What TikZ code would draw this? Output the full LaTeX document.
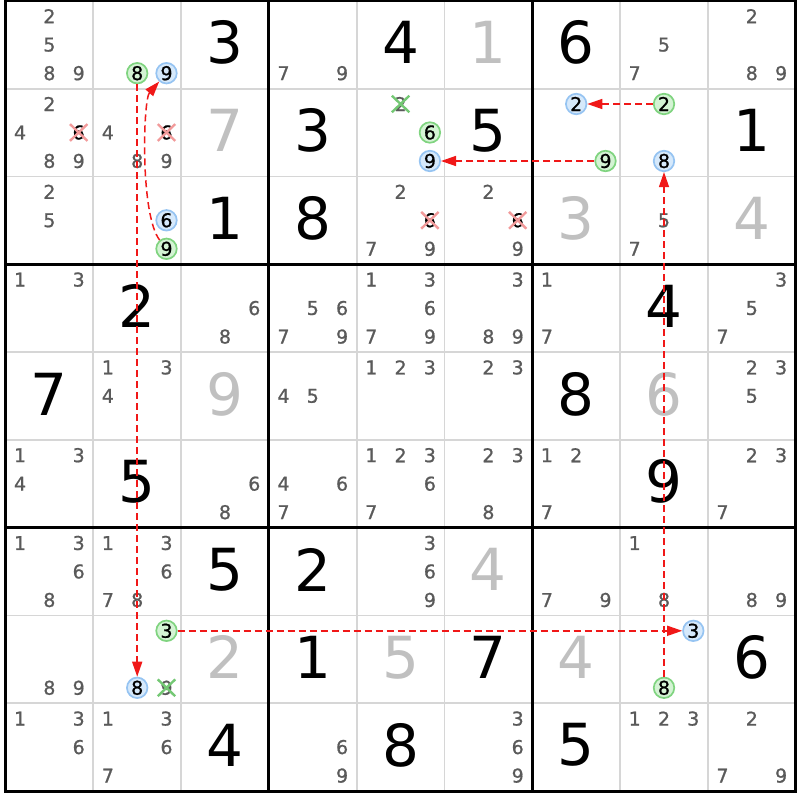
\documentclass[tikz,border=0pt]{standalone}
\usepackage{fontspec}
\setmainfont{DejaVu Sans}
\newfontfamily\candfont{DejaVu Sans}[FakeBold=0.9]
\usetikzlibrary{arrows.meta,shapes.misc}
\definecolor{candgray}{HTML}{5A5A5A}
\definecolor{solvedgray}{HTML}{C0C0C0}
\definecolor{gridgray}{HTML}{D6D6D6}
\definecolor{greenfill}{HTML}{D4F3D4}
\definecolor{greenline}{HTML}{80D480}
\definecolor{bluefill}{HTML}{D6E9FB}
\definecolor{blueline}{HTML}{96C4F2}
\definecolor{xred}{HTML}{F29A9A}
\definecolor{xgreen}{HTML}{74C874}
\definecolor{linkred}{HTML}{F01818}
\newcommand\sqxy[2]{\pgfmathsetmacro\sqx{5.5+(#2-0.5)*87.8}\pgfmathsetmacro\sqy{0.8+(#1-0.5)*87.8}}
\newcommand\kxy[3]{\sqxy{#1}{#2}\pgfmathsetmacro\kx{\sqx+(mod(#3-1,3)-1)*29.3}\pgfmathsetmacro\ky{\sqy+(floor((#3-1)/3)-1)*28.5}}
\newcommand\cands[3]{\foreach \dd in {#3}{\kxy{#1}{#2}{\dd}\node[cand] (k#1#2\dd) at (\kx,\ky) {\dd};}}
\newcommand\spec[4]{\kxy{#1}{#2}{#3}\node[#4] (k#1#2#3) at (\kx,\ky) {#3};}
\newcommand\given[3]{\sqxy{#1}{#2}\node[given] (g#1#2) at (\sqx,\sqy-2) {#3};}
\newcommand\solved[3]{\sqxy{#1}{#2}\node[solved] (g#1#2) at (\sqx,\sqy-2) {#3};}
\begin{document}
\begin{tikzpicture}[x=1pt,y=-1pt,
  cand/.style={text=candgray,inner sep=0pt,font=\candfont\fontsize{19}{19}\selectfont},
  given/.style={text=black,inner sep=0pt,font=\fontsize{58}{58}\selectfont},
  solved/.style={given,text=solvedgray},
  greenc/.style={cand,text=black,circle,draw=greenline,fill=greenfill,line width=1.7pt,minimum size=20.5pt},
  bluec/.style={cand,text=black,circle,draw=blueline,fill=bluefill,line width=1.7pt,minimum size=20.5pt},
  redx/.style={cand,text=black,cross out,draw=xred,line width=2.4pt,minimum width=15pt,minimum height=13pt},
  greenx/.style={cand,cross out,draw=xgreen,line width=2.4pt,minimum width=15pt,minimum height=13pt},
  thingrid/.style={draw=gridgray,line width=1.8pt},
  thickgrid/.style={draw=black,line width=3pt},
  link/.style={draw=linkred,line width=1.5pt,dash pattern=on 7pt off 4pt,-{Triangle[length=15pt,width=10pt]}}]
\useasboundingbox (0,0) rectangle (800,800);
\fill[white] (0,0) rectangle (800,800);
% grid
\foreach \i in {1,2,4,5,7,8}{
  \draw[thingrid] (5.5+\i*87.8,0.8) -- (5.5+\i*87.8,790.8);
  \draw[thingrid] (5.5,0.8+\i*87.8) -- (795.5,0.8+\i*87.8);
}
\foreach \i in {0,3,6,9}{
  \draw[thickgrid] (5.5+\i*87.8,-0.7) -- (5.5+\i*87.8,792.3);
  \draw[thickgrid] (4,0.8+\i*87.8) -- (797,0.8+\i*87.8);
}
% givens
\given{1}{3}{3}\given{1}{5}{4}\given{1}{7}{6}
\given{2}{4}{3}\given{2}{6}{5}\given{2}{9}{1}
\given{3}{3}{1}\given{3}{4}{8}
\given{4}{2}{2}\given{4}{8}{4}
\given{5}{1}{7}\given{5}{7}{8}
\given{6}{2}{5}\given{6}{8}{9}
\given{7}{3}{5}\given{7}{4}{2}
\given{8}{4}{1}\given{8}{6}{7}\given{8}{9}{6}
\given{9}{3}{4}\given{9}{5}{8}\given{9}{7}{5}
% solved
\solved{1}{6}{1}\solved{2}{3}{7}\solved{3}{7}{3}\solved{3}{9}{4}
\solved{5}{3}{9}\solved{5}{8}{6}\solved{7}{6}{4}
\solved{8}{3}{2}\solved{8}{5}{5}\solved{8}{7}{4}
% candidates
\cands{1}{1}{2,5,8,9}\cands{1}{4}{7,9}\cands{1}{8}{5,7}\cands{1}{9}{2,8,9}
\cands{2}{1}{2,4,8,9}\cands{2}{2}{4,8,9}
\cands{3}{1}{2,5}\cands{3}{5}{2,7,9}\cands{3}{6}{2,9}\cands{3}{8}{5,7}
\cands{4}{1}{1,3}\cands{4}{3}{6,8}\cands{4}{4}{5,6,7,9}\cands{4}{5}{1,3,6,7,9}
\cands{4}{6}{3,8,9}\cands{4}{7}{1,7}\cands{4}{9}{3,5,7}
\cands{5}{2}{1,3,4}\cands{5}{4}{4,5}\cands{5}{5}{1,2,3}\cands{5}{6}{2,3}\cands{5}{9}{2,3,5}
\cands{6}{1}{1,3,4}\cands{6}{3}{6,8}\cands{6}{4}{4,6,7}\cands{6}{5}{1,2,3,6,7}
\cands{6}{6}{2,3,8}\cands{6}{7}{1,2,7}\cands{6}{9}{2,3,7}
\cands{7}{1}{1,3,6,8}\cands{7}{2}{1,3,6,7,8}\cands{7}{5}{3,6,9}\cands{7}{7}{7,9}
\cands{7}{8}{1,8}\cands{7}{9}{8,9}
\cands{8}{1}{8,9}
\cands{9}{1}{1,3,6}\cands{9}{2}{1,3,6,7}\cands{9}{4}{6,9}\cands{9}{6}{3,6,9}
\cands{9}{8}{1,2,3}\cands{9}{9}{2,7,9}
% eliminated
\spec{2}{1}{6}{redx}\spec{2}{2}{6}{redx}\spec{3}{5}{6}{redx}\spec{3}{6}{6}{redx}
\spec{2}{5}{2}{greenx}\spec{8}{2}{9}{greenx}
% chain candidates
\spec{1}{2}{8}{greenc}\spec{1}{2}{9}{bluec}
\spec{3}{2}{9}{greenc}\spec{3}{2}{6}{bluec}
\spec{2}{5}{6}{greenc}\spec{2}{5}{9}{bluec}
\spec{2}{7}{9}{greenc}\spec{2}{7}{2}{bluec}
\spec{2}{8}{2}{greenc}\spec{2}{8}{8}{bluec}
\spec{8}{2}{3}{greenc}\spec{8}{2}{8}{bluec}
\spec{8}{8}{8}{greenc}\spec{8}{8}{3}{bluec}
% links
\draw[link] (k329) .. controls (140,215) and (143,100) .. (k129);
\draw[link] (k128) -- (k828);
\draw[link] (k823) -- (k883);
\draw[link] (k888) -- (k288);
\draw[link] (k279) -- (k259);
\draw[link] (k282) -- (k272);
\end{tikzpicture}
\end{document}
